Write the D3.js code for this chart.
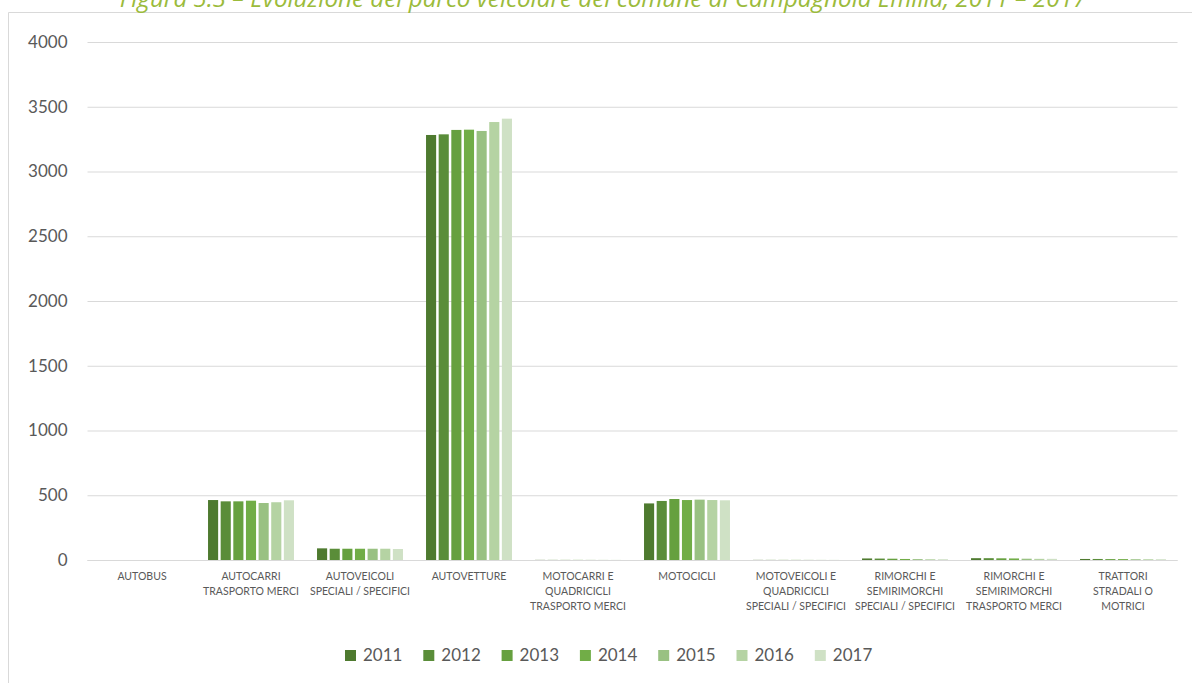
<!DOCTYPE html>
<html>
<head>
<meta charset="utf-8">
<script src="https://cdn.jsdelivr.net/npm/d3@7/dist/d3.min.js"></script>
<style>
  html, body { margin: 0; padding: 0; background: #fff; }
  svg { display: block; }
</style>
</head>
<body>
<svg id="chart" width="1192" height="683"></svg>
<script>
// Vehicle categories (label lines as wrapped on the axis)
const categories = [
  ["AUTOBUS"],
  ["AUTOCARRI", "TRASPORTO MERCI"],
  ["AUTOVEICOLI", "SPECIALI / SPECIFICI"],
  ["AUTOVETTURE"],
  ["MOTOCARRI E", "QUADRICICLI", "TRASPORTO MERCI"],
  ["MOTOCICLI"],
  ["MOTOVEICOLI E", "QUADRICICLI", "SPECIALI / SPECIFICI"],
  ["RIMORCHI E", "SEMIRIMORCHI", "SPECIALI / SPECIFICI"],
  ["RIMORCHI E", "SEMIRIMORCHI", "TRASPORTO MERCI"],
  ["TRATTORI", "STRADALI O", "MOTRICI"]
];

const years = ["2011", "2012", "2013", "2014", "2015", "2016", "2017"];

// Number of vehicles per category, one array per year
const v2011 = [0, 463, 90, 3282, 1, 437, 1, 12, 14, 8];
const v2012 = [0, 453, 87, 3287, 1, 456, 1, 11, 14, 8];
const v2013 = [0, 453, 87, 3321, 1, 471, 1, 10, 13, 7];
const v2014 = [0, 458, 87, 3323, 1, 463, 1, 8, 12, 7];
const v2015 = [0, 440, 87, 3313, 1, 466, 1, 7, 10, 6];
const v2016 = [0, 446, 87, 3382, 1, 463, 1, 6, 9, 6];
const v2017 = [0, 461, 85, 3408, 1, 461, 1, 6, 9, 6];

const yTicks = [0, 500, 1000, 1500, 2000, 2500, 3000, 3500, 4000];

const titleText = "Figura 5.3 – Evoluzione del parco veicolare del comune di Campagnola Emilia, 2011 – 2017";

const seriesValues = [v2011, v2012, v2013, v2014, v2015, v2016, v2017];
const colors = ["#4e7a2f", "#5a8d39", "#66a03f", "#71ad47", "#99c182", "#b5d3a3", "#cfe1c5"];

const svg = d3.select("#chart");
const font = "Lato, 'Open Sans', sans-serif";

// chart frame
svg.append("path")
  .attr("d", "M8.5,700 L8.5,12.5 L1200,12.5")
  .attr("fill", "none")
  .attr("stroke", "#d9d9d9")
  .attr("stroke-width", 1);

// title (sits partly above the frame)
svg.append("text")
  .attr("x", 603)
  .attr("y", 7)
  .attr("text-anchor", "middle")
  .attr("font-family", "'Open Sans', sans-serif")
  .attr("font-style", "italic")
  .attr("font-size", 24.2)
  .attr("fill", "#9bbb3b")
  .text(titleText);

const plotLeft = 87.5, plotRight = 1177.5, plotTop = 42, plotBottom = 560;

const x0 = d3.scaleBand()
  .domain(d3.range(categories.length))
  .range([plotLeft, plotRight])
  .paddingInner(0.2)
  .paddingOuter(0.1);

const x1 = d3.scaleBand()
  .domain(d3.range(years.length))
  .range([0, x0.bandwidth()])
  .paddingInner(0.2)
  .paddingOuter(0.05);

const y = d3.scaleLinear().domain([0, 4000]).range([plotBottom, plotTop]);

// gridlines + y labels
const yAxis = d3.axisLeft(y)
  .tickValues(yTicks)
  .tickFormat(d3.format("d"))
  .tickSize(-(plotRight - plotLeft))
  .tickPadding(20);
const gy = svg.append("g")
  .attr("transform", `translate(${plotLeft},0)`)
  .call(yAxis);
gy.select(".domain").remove();
gy.selectAll(".tick line")
  .attr("stroke", "#d9d9d9")
  .attr("stroke-width", 1);
gy.selectAll(".tick text")
  .attr("font-family", font)
  .attr("font-size", 17)
  .attr("fill", "#595959");

// bars
const groups = svg.append("g").selectAll("g")
  .data(categories.map((c, i) => i))
  .join("g")
  .attr("transform", i => `translate(${x0(i)},0)`);

groups.selectAll("rect")
  .data(ci => seriesValues.map((vals, si) => ({ si, v: vals[ci] })))
  .join("rect")
  .attr("x", d => x1(d.si))
  .attr("width", x1.bandwidth())
  .attr("y", d => y(d.v))
  .attr("height", d => plotBottom - y(d.v))
  .attr("fill", d => colors[d.si]);

// baseline redrawn above bars
svg.append("line")
  .attr("x1", plotLeft).attr("x2", plotRight)
  .attr("y1", plotBottom + 0.5).attr("y2", plotBottom + 0.5)
  .attr("stroke", "#d9d9d9").attr("stroke-width", 1);

// category labels
const catLabels = svg.append("g").selectAll("text")
  .data(categories)
  .join("text")
  .attr("text-anchor", "middle")
  .attr("font-family", font)
  .attr("font-size", 10.5)
  .attr("fill", "#595959")
  .attr("transform", (d, i) => `translate(${x0(i) + x0.bandwidth() / 2},580)`);

catLabels.selectAll("tspan")
  .data(d => d)
  .join("tspan")
  .attr("x", 0)
  .attr("y", (d, i) => i * 15)
  .text(d => d);

// legend
const legend = svg.append("g").attr("transform", "translate(345,650)");
const items = legend.selectAll("g")
  .data(years)
  .join("g")
  .attr("transform", (d, i) => `translate(${i * 78.3},0)`);
items.append("rect")
  .attr("width", 11).attr("height", 11)
  .attr("fill", (d, i) => colors[i]);
items.append("text")
  .attr("x", 18).attr("y", 11)
  .attr("font-family", font)
  .attr("font-size", 17)
  .attr("fill", "#595959")
  .text(d => d);
</script>
</body>
</html>
